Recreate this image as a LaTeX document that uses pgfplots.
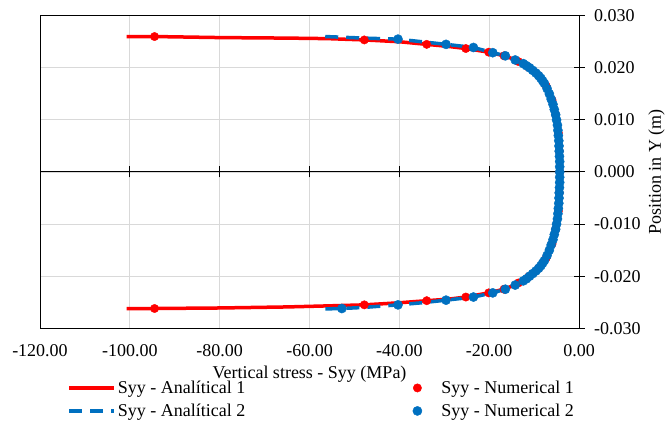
\documentclass[border=0pt]{standalone}
\usepackage{pgfplots}
\pgfplotsset{compat=1.18}
\usepackage{fontspec}
\setmainfont{Liberation Serif}
\definecolor{xred}{HTML}{FF0000}
\definecolor{xblue}{HTML}{0070C0}
\definecolor{xgrid}{HTML}{D9D9D9}
\newcommand{\fs}{\fontsize{18bp}{21bp}\selectfont}
\pgfplotsset{longline/.style={legend image code/.code={\draw[##1] (0bp,0bp) -- (45bp,0bp);}},
  dotleg/.style={legend image code/.code={\draw[##1, only marks] plot coordinates {(10bp,0bp)}; \path[draw=none] (0bp,0bp) -- (32bp,0bp);}}}
\begin{document}
\begin{tikzpicture}
\useasboundingbox (0,0) rectangle (665bp,423bp);
\pgfplotsset{myframe/.style={at={(40bp,94.7bp)}, anchor=south west, scale only axis,
  width=539bp, height=312.6bp, xmin=-120, xmax=0, ymin=-0.03, ymax=0.03}}
% background axis: frame, grid, labels
\begin{axis}[myframe,
  xtick={-120,-100,-80,-60,-40,-20,0},
  ytick={-0.03,-0.02,-0.01,0,0.01,0.02,0.03},
  grid=major, grid style={xgrid, line width=0.9bp},
  axis line style={black, line width=1bp},
  x tick style={draw=none},
  y tick style={black, line width=1bp},
  ytick pos=right, yticklabel pos=right,
  tick align=center, major tick length=11bp,
  scaled ticks=false,
  /pgf/number format/assume math mode=true,
  xticklabel style={font=\fs, yshift=-7bp, /pgf/number format/fixed, /pgf/number format/fixed zerofill, /pgf/number format/precision=2},
  yticklabel style={font=\fs, xshift=6bp, /pgf/number format/fixed, /pgf/number format/fixed zerofill, /pgf/number format/precision=3},
  xlabel={Vertical stress - Syy (MPa)},
  ylabel={Position in Y (m)},
  label style={font=\fs},
  xlabel style={yshift=-3bp},
  ylabel style={yshift=-1bp},
]
\end{axis}
% data axis with the y=0 line
\begin{axis}[myframe,
  axis x line=middle, axis y line=none,
  axis line style={-, black, line width=1bp},
  every inner x axis line/.append style={-},
  xtick={-100,-80,-60,-40,-20}, xticklabels={}, ytick=\empty,
  tick align=center, major tick length=11bp,
  x tick style={black, line width=1bp},
  legend style={draw=none, fill=none, font=\fs, at={(0.045,-0.155)}, anchor=north west,
    /tikz/row sep=5bp,
    /tikz/every even column/.append style={column sep=160bp}},
  legend columns=2, transpose legend, legend cell align=left,
]
\addplot[xred, line width=3.5bp, no marks, longline] coordinates {
(-100.7,0.0260) (-94.5,0.0260) (-80,0.0258) (-65,0.0257) (-56,0.0256) (-47.8,0.02535) (-40,0.0250) (-33.9,0.0245) (-29,0.0241) (-25.2,0.0237) (-20.1,0.0230) (-16.7,0.0223) (-14.3,0.0216) (-12.4,0.0208) (-11.0,0.0200) (-9.6,0.0190) (-8.5,0.0180) (-7.5,0.0167) (-6.6,0.0150) (-6.0,0.0136) (-5.5,0.0120) (-5.0,0.0100) (-4.7,0.0080) (-4.5,0.0060) (-4.4,0.0040) (-4.3,0.0020) (-4.3,0.0000) (-4.3,-0.0020) (-4.4,-0.0040) (-4.5,-0.0060) (-4.7,-0.0080) (-5.0,-0.0100) (-5.5,-0.0120) (-6.0,-0.0136) (-6.6,-0.0150) (-7.5,-0.0167) (-8.5,-0.0180) (-9.6,-0.0190) (-11.0,-0.0200) (-12.4,-0.0209) (-14.3,-0.0217) (-16.7,-0.0225) (-20.1,-0.0232) (-25.2,-0.0240) (-29,-0.0244) (-33.9,-0.0247) (-40,-0.0251) (-47.8,-0.0255) (-56,-0.0257) (-65,-0.0259) (-80,-0.0261) (-94.5,-0.0262) (-100.7,-0.0262)
};
\addlegendentry{Syy - Analítical 1}
\addplot[xblue, line width=3.5bp, no marks, dash pattern=on 13bp off 8bp, longline] coordinates {
(-56.5,0.0260) (-48,0.0257) (-40.3,0.0255) (-35,0.0250) (-29.6,0.0245) (-23.5,0.0239) (-19.2,0.0229) (-16.4,0.0223) (-14.2,0.0215) (-12.4,0.0208) (-11.0,0.0200) (-9.6,0.0190) (-8.5,0.0180) (-7.5,0.0167) (-6.6,0.0150) (-6.0,0.0136) (-5.5,0.0120) (-5.0,0.0100) (-4.7,0.0080) (-4.5,0.0060) (-4.4,0.0040) (-4.3,0.0020) (-4.3,0.0000) (-4.3,-0.0020) (-4.4,-0.0040) (-4.5,-0.0060) (-4.7,-0.0080) (-5.0,-0.0100) (-5.5,-0.0120) (-6.0,-0.0136) (-6.6,-0.0150) (-7.5,-0.0167) (-8.5,-0.0180) (-9.6,-0.0190) (-11.0,-0.0200) (-12.4,-0.0209) (-14.2,-0.0217) (-16.4,-0.0225) (-19.2,-0.0232) (-23.5,-0.0240) (-29.6,-0.0246) (-35,-0.0251) (-40.3,-0.0255) (-48,-0.0260) (-52.8,-0.0262) (-57.3,-0.0263)
};
\addlegendentry{Syy - Analítical 2}
\addplot[only marks, mark=*, mark size=4.2bp, color=xred, dotleg] coordinates {
(-94.5,0.0260) (-47.8,0.02535) (-33.9,0.0245) (-25.2,0.0237) (-20.1,0.0230) (-16.7,0.0223) (-13.5,0.0212) (-11.2,0.0201) (-9.0,0.0185) (-7.3,0.0165) (-6.0,0.0138) (-5.2,0.0110) (-4.6,0.0075) (-4.4,0.0040) (-4.3,0.0000) (-4.4,-0.0040) (-4.6,-0.0075) (-5.2,-0.0110) (-6.0,-0.0138) (-7.3,-0.0165) (-9.0,-0.0185) (-11.2,-0.0201) (-13.5,-0.0213) (-16.7,-0.0225) (-20.1,-0.0232) (-25.2,-0.0240) (-33.9,-0.0247) (-47.8,-0.0255) (-94.5,-0.0262)
};
\addlegendentry{Syy - Numerical 1}
\addplot[only marks, mark=*, mark size=4.6bp, color=xblue, dotleg] coordinates {
(-40.3,0.0255) (-29.6,0.0245) (-23.5,0.0239) (-19.2,0.0229) (-16.4,0.0223) (-14.2,0.0215) (-12.4,0.0208) (-11.7,0.0204) (-11.0,0.0200) (-10.3,0.0195) (-9.6,0.0190) (-9.0,0.0185) (-8.5,0.0180) (-8.1,0.0175) (-7.7,0.0170) (-7.1,0.0160) (-6.6,0.0150) (-6.2,0.0140) (-5.8,0.0130) (-5.5,0.0120) (-5.2,0.0110) (-5.0,0.0100) (-4.8,0.0090) (-4.7,0.0080) (-4.6,0.0070) (-4.5,0.0060) (-4.45,0.0050) (-4.4,0.0040) (-4.35,0.0030) (-4.3,0.0020) (-4.3,0.0010) (-4.3,0.0000) (-4.3,-0.0010) (-4.3,-0.0020) (-4.35,-0.0030) (-4.4,-0.0040) (-4.45,-0.0050) (-4.5,-0.0060) (-4.6,-0.0070) (-4.7,-0.0080) (-4.8,-0.0090) (-5.0,-0.0100) (-5.2,-0.0110) (-5.5,-0.0120) (-5.8,-0.0130) (-6.2,-0.0140) (-6.6,-0.0150) (-7.1,-0.0160) (-7.7,-0.0170) (-8.1,-0.0175) (-8.5,-0.0180) (-9.0,-0.0185) (-9.6,-0.0190) (-10.3,-0.0195) (-11.0,-0.0200) (-11.7,-0.0205) (-12.4,-0.0209) (-14.2,-0.0217) (-16.4,-0.0225) (-19.2,-0.0232) (-23.5,-0.0240) (-29.6,-0.0246) (-40.3,-0.0255) (-52.8,-0.0262)
};
\addlegendentry{Syy - Numerical 2}
\end{axis}
\end{tikzpicture}
\end{document}
